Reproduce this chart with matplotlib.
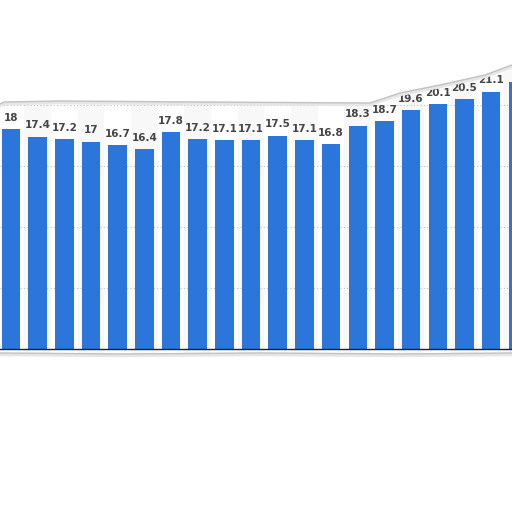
import matplotlib
matplotlib.use("Agg")
import matplotlib.pyplot as plt
from matplotlib.patches import Polygon
import numpy as np

# bar values, left to right (last one is cut off by the right edge)
values = [18, 17.4, 17.2, 17, 16.7, 16.4, 17.8, 17.2, 17.1, 17.1,
          17.5, 17.1, 16.8, 18.3, 18.7, 19.6, 20.1, 20.5, 21.1, 21.9]
labels = ["18", "17.4", "17.2", "17", "16.7", "16.4", "17.8", "17.2", "17.1", "17.1",
          "17.5", "17.1", "16.8", "18.3", "18.7", "19.6", "20.1", "20.5", "21.1", "21.9"]
grid_values = [5, 10, 15, 20]

bar_color = "#2b76da"
W = H = 512

fig = plt.figure(figsize=(5.12, 5.12), dpi=100)
ax = fig.add_axes([0, 0, 1, 1])
ax.set_axis_off()

x = np.arange(len(values))
step = 26.67  # px per category
ppu = 12.2    # px per unit
base = 349    # baseline, px from top
ax.set_xlim(-11 / step, (W - 11) / step)
ax.set_ylim(-(H - base) / ppu, base / ppu)

# alternating column shading
for i in x[1::2]:
    ax.axvspan(i - 0.5, i + 0.5, color="#f8f8f8", zorder=0, lw=0)

for g in grid_values:
    ax.axhline(g, color="#c4c4c4", lw=0.8, ls=(0, (1, 2)), zorder=1)

ax.bar(x, values, width=0.69, color=bar_color, zorder=2)
ax.axhline(0, color="#222222", lw=1.0, zorder=3)

# torn paper edges (pixel coords from top-left)
top_edge = [(0, 104), (4, 102), (60, 101), (200, 102), (370, 103), (400, 93),
            (440, 85), (485, 75), (512, 65)]
bot_edge = [(0, 353), (120, 354), (260, 353), (400, 354), (512, 353)]

def to_fig(pts):
    return [(px / W, 1 - py / H) for px, py in pts]

top_poly = to_fig(top_edge) + [(1, 1), (0, 1)]
bot_poly = to_fig(bot_edge) + [(1, 0), (0, 0)]
fig.patches.append(Polygon(top_poly, closed=True, fc="white", ec="none",
                           transform=fig.transFigure, zorder=5))
fig.patches.append(Polygon(bot_poly, closed=True, fc="white", ec="none",
                           transform=fig.transFigure, zorder=5))
for pts in (top_edge, bot_edge):
    xs, ys = zip(*to_fig([(px, py + 1.5) for px, py in pts]))
    fig.lines.append(plt.Line2D(xs, ys, color="#e6e6e6", lw=2.5, transform=fig.transFigure, zorder=6))
    xs, ys = zip(*to_fig(pts))
    fig.lines.append(plt.Line2D(xs, ys, color="#c2c2c2", lw=1.0, transform=fig.transFigure, zorder=6))

for xi, v, lab in zip(x, values, labels):
    ax.annotate(lab, (xi, v), xytext=(0, 4.5), textcoords="offset points",
                ha="center", va="bottom", fontsize=7.5, fontweight="bold",
                color="#454545", zorder=10)

fig.savefig("out.png", dpi=100)
